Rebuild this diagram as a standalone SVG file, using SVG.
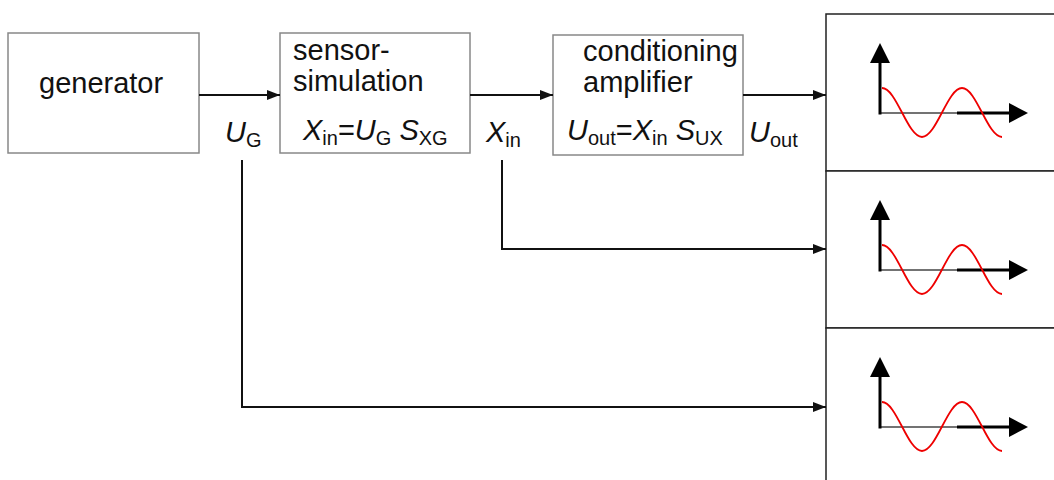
<svg xmlns="http://www.w3.org/2000/svg" xmlns:xlink="http://www.w3.org/1999/xlink" width="1054" height="480" viewBox="0 0 1054 480">
<style>
.box{fill:#fff;stroke:#888;stroke-width:1.5}
.panel{fill:#fff;stroke:#222;stroke-width:1.5}
.t{font-family:"Liberation Sans",Arial,sans-serif;font-size:29px;fill:#111}
.i{font-style:italic}
.s{font-size:20px}
.con{fill:none;stroke:#111;stroke-width:2;marker-end:url(#ah)}
.ax{fill:none;stroke:#000;stroke-width:3}
.axt{fill:none;stroke:#444;stroke-width:1.5}
.hd{fill:#000}
.sin{fill:none;stroke:#e00;stroke-width:1.8}
</style>
<defs>
<marker id="ah" markerUnits="userSpaceOnUse" markerWidth="13" markerHeight="10" refX="13" refY="5" orient="auto">
<path d="M0,0 L13,5 L0,10 z" fill="#111"/>
</marker>
<g id="plot">
<path class="axt" d="M880,0 H958"/>
<path class="ax" d="M880,1.5 V-52"/>
<path class="ax" d="M957,0 H1010"/>
<polygon class="hd" points="880,-70 870,-50 890,-50"/>
<polygon class="hd" points="1028,0 1009,-10 1009,10"/>
<path class="sin" d="M882,-25 C896.5,-25 907.5,24 922,24 C936.5,24 947.5,-25 962,-25 C976.5,-25 987.5,24 1002,24"/>
</g>
</defs>
<rect width="1054" height="480" fill="#fff"/>
<g id="generator">
<rect class="box" x="8" y="33" width="191" height="120"/>
<text class="t" x="39" y="93" font-size="30">generator</text>
</g>
<g id="sensor-simulation">
<rect class="box" x="280" y="33" width="190" height="120"/>
<text class="t" x="293" y="60">sensor-</text>
<text class="t" x="293" y="91">simulation</text>
<text class="t" x="303" y="140"><tspan class="i">X</tspan><tspan class="s" dy="5">in</tspan><tspan dy="-5">=</tspan><tspan class="i">U</tspan><tspan class="s" dy="5">G</tspan><tspan dy="-5"> </tspan><tspan class="i">S</tspan><tspan class="s" dy="5">XG</tspan></text>
</g>
<g id="conditioning-amplifier">
<rect class="box" x="553" y="35" width="190" height="120"/>
<text class="t" x="583" y="61">conditioning</text>
<text class="t" x="583" y="92">amplifier</text>
<text class="t" x="567" y="140"><tspan class="i">U</tspan><tspan class="s" dy="5">out</tspan><tspan dy="-5">=</tspan><tspan class="i">X</tspan><tspan class="s" dy="5">in</tspan><tspan dy="-5"> </tspan><tspan class="i">S</tspan><tspan class="s" dy="5">UX</tspan></text>
</g>
<g id="scope-1">
<rect class="panel" x="826" y="14" width="240" height="157"/>
<use xlink:href="#plot" transform="translate(0,113)"/>
</g>
<g id="scope-2">
<rect class="panel" x="826" y="171" width="240" height="157"/>
<use xlink:href="#plot" transform="translate(0,270)"/>
</g>
<g id="scope-3">
<rect class="panel" x="826" y="328" width="240" height="170"/>
<use xlink:href="#plot" transform="translate(0,427)"/>
</g>
<g id="connectors">
<path class="con" d="M199,95 H280"/>
<path class="con" d="M470,95 H553"/>
<path class="con" d="M743,95 H826"/>
<path class="con" d="M242,160 V407 H826"/>
<path class="con" d="M502,160 V249 H826"/>
<text class="t" x="225" y="142"><tspan class="i">U</tspan><tspan class="s" dy="5">G</tspan></text>
<text class="t" x="486" y="142"><tspan class="i">X</tspan><tspan class="s" dy="5">in</tspan></text>
<text class="t" x="749" y="142"><tspan class="i">U</tspan><tspan class="s" dy="5">out</tspan></text>
</g>
</svg>
